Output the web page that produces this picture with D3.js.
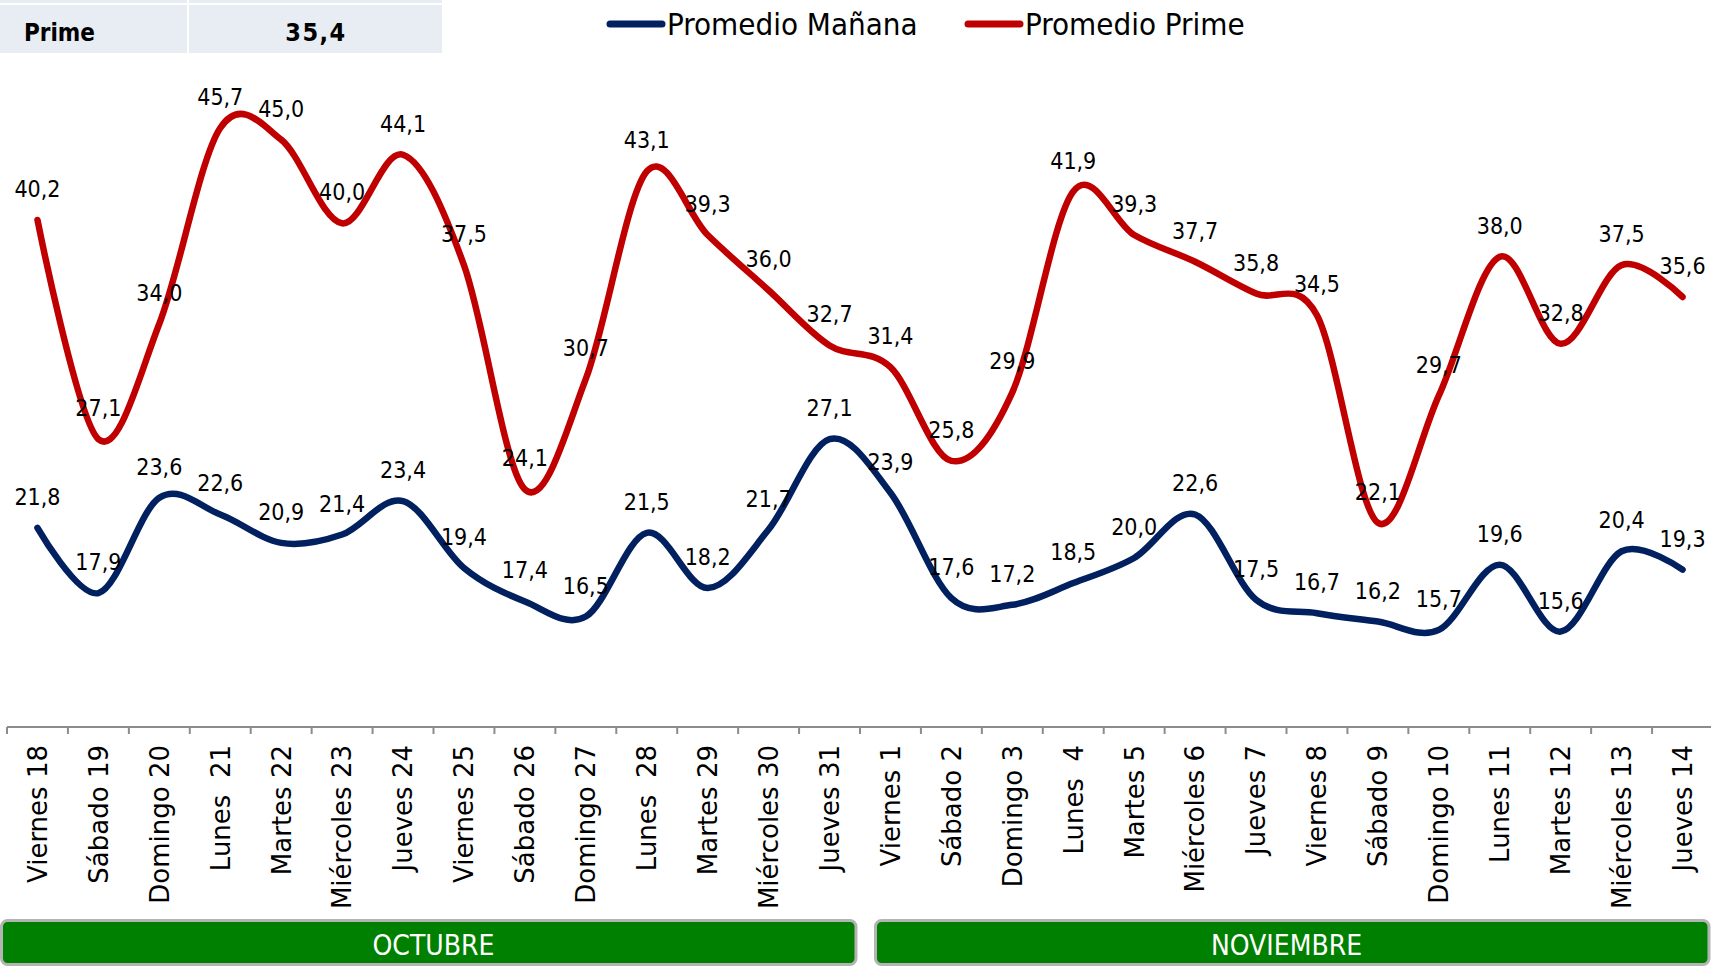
<!DOCTYPE html>
<html>
<head>
  <meta charset="utf-8">
  <title>Promedio Mañana / Prime</title>
  <script src="https://d3js.org/d3.v7.min.js"></script>
  <style>
    body { margin: 0; background: #fff; }
    svg { display: block; }
    .cond { font-family: "DejaVu Sans Condensed", "DejaVu Sans", sans-serif; font-stretch: condensed; }
    .tick-label { font-family: "DejaVu Sans", sans-serif; font-size: 26px; fill: #000; white-space: pre; }
  </style>
</head>
<body>
<svg id="chart" width="1711" height="966"></svg>
<script>
  "use strict"

  // dias (eje x)
  var dias = ["Viernes 18", "Sábado 19", "Domingo 20", "Lunes  21", "Martes 22", "Miércoles 23", "Jueves 24",
              "Viernes 25", "Sábado 26", "Domingo 27", "Lunes  28", "Martes 29", "Miércoles 30", "Jueves 31",
              "Viernes 1", "Sábado 2", "Domingo 3", "Lunes  4", "Martes 5", "Miércoles 6", "Jueves 7",
              "Viernes 8", "Sábado 9", "Domingo 10", "Lunes 11", "Martes 12", "Miércoles 13", "Jueves 14"];

  var promedioManana = [21.8, 17.9, 23.6, 22.6, 20.9, 21.4, 23.4, 19.4, 17.4, 16.5, 21.5, 18.2, 21.7, 27.1,
                        23.9, 17.6, 17.2, 18.5, 20.0, 22.6, 17.5, 16.7, 16.2, 15.7, 19.6, 15.6, 20.4, 19.3];

  var promedioPrime = [40.2, 27.1, 34.0, 45.7, 45.0, 40.0, 44.1, 37.5, 24.1, 30.7, 43.1, 39.3, 36.0, 32.7,
                       31.4, 25.8, 29.9, 41.9, 39.3, 37.7, 35.8, 34.5, 22.1, 29.7, 38.0, 32.8, 37.5, 35.6];

  // meses: nombre, primer dia, ultimo dia (indices)
  var meses = [["OCTUBRE", 0, 13], ["NOVIEMBRE", 14, 27]];

  var resumenNombre = "Prime", resumenValor = 35.4;

  var series = [
    {nombre: "Promedio Mañana", valores: promedioManana, color: "#002060"},
    {nombre: "Promedio Prime", valores: promedioPrime, color: "#C00000"}
  ];

  var fmt = function(v) { return d3.format(".1f")(v).replace(".", ","); };

  var svg = d3.select("#chart");

  var x = d3.scaleBand().domain(dias).range([7, 1713]);
  var y = d3.scaleLinear().domain([0, 50]).range([892.6, 56]);

  // tabla resumen arriba a la izquierda
  svg.append("rect").attr("x", 0).attr("y", -10).attr("width", 187).attr("height", 13).attr("fill", "#E8ECF3");
  svg.append("rect").attr("x", 189).attr("y", -10).attr("width", 253).attr("height", 13).attr("fill", "#E8ECF3");
  svg.append("rect").attr("x", 0).attr("y", 5).attr("width", 187).attr("height", 48).attr("fill", "#E8ECF3");
  svg.append("rect").attr("x", 189).attr("y", 5).attr("width", 253).attr("height", 48).attr("fill", "#E8ECF3");
  svg.append("text").attr("class", "cond")
     .attr("x", 24).attr("y", 41)
     .style("font-size", "24px").style("font-weight", "bold")
     .text(resumenNombre);
  svg.append("text").attr("class", "cond")
     .attr("x", 316).attr("y", 41).attr("text-anchor", "middle")
     .style("font-size", "25px").style("font-weight", "bold").style("letter-spacing", "1.5px")
     .text(fmt(resumenValor));

  // leyenda
  var legendX = [607, 965];
  var leyenda = svg.selectAll("g.leyenda")
     .data(series)
     .enter()
     .append("g")
     .attr("class", "leyenda")
     .attr("transform", (d, i) => "translate(" + legendX[i] + ",24)");
  leyenda.append("line")
     .attr("x1", 3).attr("x2", 55).attr("y1", 0).attr("y2", 0)
     .attr("stroke", (d) => d.color).attr("stroke-width", 7).attr("stroke-linecap", "round");
  leyenda.append("text").attr("class", "cond")
     .attr("x", 60).attr("y", 11)
     .style("font-size", "31px")
     .text((d) => d.nombre);

  // eje x
  var ejeY = 727;
  svg.append("line")
     .attr("x1", x.range()[0]).attr("x2", 1711)
     .attr("y1", ejeY).attr("y2", ejeY)
     .attr("stroke", "#8C8C8C").attr("stroke-width", 2);
  svg.selectAll("line.tick")
     .data(dias)
     .enter()
     .append("line")
     .attr("class", "tick")
     .attr("x1", (d) => x(d)).attr("x2", (d) => x(d))
     .attr("y1", ejeY).attr("y2", ejeY + 7)
     .attr("stroke", "#8C8C8C").attr("stroke-width", 2);
  svg.selectAll("text.tick-label")
     .data(dias)
     .enter()
     .append("text")
     .attr("class", "tick-label")
     .attr("text-anchor", "end")
     .attr("dy", "0.36em")
     .attr("transform", (d) => "translate(" + (x(d) + x.bandwidth() / 2) + "," + (ejeY + 18) + ") rotate(-90)")
     .text((d) => d);

  // barras de meses
  var izq = (d, i) => i === 0 ? 1.5 : x(dias[d[1]]) + 15.5;
  var mes = svg.selectAll("g.mes")
     .data(meses)
     .enter()
     .append("g")
     .attr("class", "mes");
  mes.append("rect")
     .attr("x", izq)
     .attr("y", 920.5)
     .attr("width", (d, i) => (x(dias[d[2]]) + x.bandwidth()) - izq(d, i) - 4)
     .attr("height", 44)
     .attr("rx", 6)
     .attr("fill", "#008000")
     .attr("stroke", "#B4B4B4")
     .attr("stroke-width", 3);
  mes.append("text").attr("class", "cond")
     .attr("x", (d) => (x(dias[d[1]]) + x(dias[d[2]]) + x.bandwidth()) / 2)
     .attr("y", 955)
     .attr("text-anchor", "middle")
     .attr("fill", "#fff")
     .style("font-size", "28px")
     .text((d) => d[0]);

  // lineas suavizadas
  var linea = d3.line()
     .x((d, i) => x(dias[i]) + x.bandwidth() / 2)
     .y((d) => y(d))
     .curve(d3.curveCardinal.tension(0));

  svg.selectAll("path.serie")
     .data(series)
     .enter()
     .append("path")
     .attr("class", "serie")
     .attr("d", (d) => linea(d.valores))
     .attr("fill", "none")
     .attr("stroke", (d) => d.color)
     .attr("stroke-width", 6.5)
     .attr("stroke-linecap", "round")
     .attr("stroke-linejoin", "round");

  // etiquetas de valores
  series.forEach(function(s) {
    svg.append("g").selectAll("text")
       .data(s.valores)
       .enter()
       .append("text")
       .attr("class", "cond")
       .attr("x", (d, i) => x(dias[i]) + x.bandwidth() / 2)
       .attr("y", (d) => y(d) - 23)
       .attr("text-anchor", "middle")
       .style("font-size", "23px")
       .attr("fill", "#000")
       .text((d) => fmt(d));
  });
</script>
</body>
</html>
